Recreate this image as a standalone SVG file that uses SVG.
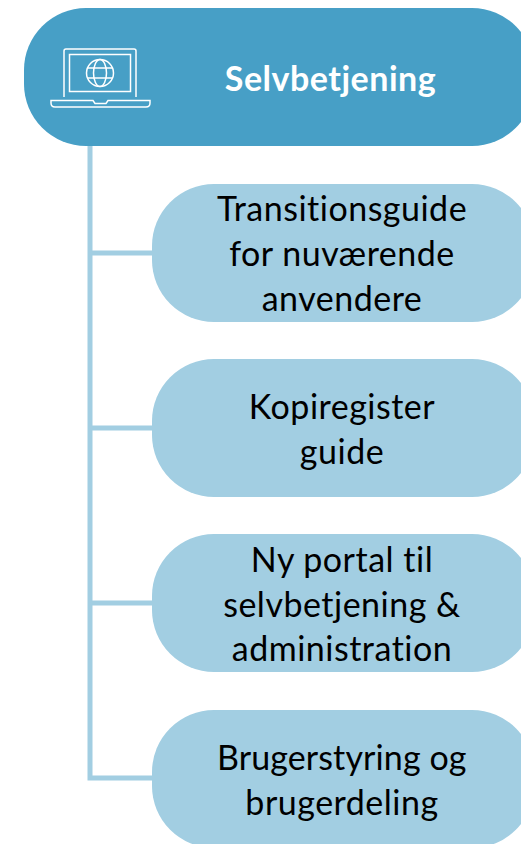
<svg xmlns="http://www.w3.org/2000/svg" width="521" height="844" viewBox="0 0 521 844">
<style>
.child{fill:#a2cee2}
.t{font-family:Lato,"Open Sans","Liberation Sans",sans-serif;font-size:34px;letter-spacing:.5px;font-variant-ligatures:none;fill:#000;text-anchor:middle}
.h{font-family:Lato,"Open Sans","Liberation Sans",sans-serif;font-size:34px;letter-spacing:.5px;font-variant-ligatures:none;font-weight:700;fill:#fff;text-anchor:middle}
.i{fill:none;stroke:#fff;stroke-width:1.5}
.c{fill:none;stroke:#a2cee2;stroke-width:5}
</style>
<rect width="521" height="844" fill="#fff"/>
<g id="connectors">
<path class="c" d="M90 140V778H156M90 253H156M90 428H156M90 603H156"/>
</g>
<g id="header">
<rect x="24" y="8" width="510" height="138" rx="62" fill="#479fc6"/>
<g id="laptop-icon">
<path class="i" d="M64 97V51Q64 49 66 49H134Q136 49 136 51V97"/>
<rect class="i" x="69.500" y="54.500" width="61" height="37"/>
<circle class="i" cx="100" cy="73" r="13.500"/>
<ellipse class="i" cx="100" cy="73" rx="6.500" ry="13.500"/>
<path class="i" d="M88 68H112M88 78H112"/>
<path class="i" d="M51 100.500H93L95 103.500H106L108 100.500H150V103Q150 107 146 107H55Q51 107 51 103Z"/>
</g>
<text class="h" x="330.500" y="91">Selvbetjening</text>
</g>
<g id="node-1">
<rect class="child" x="152" y="184" width="382" height="138" rx="62"/>
<text class="t" x="342" y="221">Transitionsguide</text>
<text class="t" x="342" y="266">for nuværende</text>
<text class="t" x="342" y="311">anvendere</text>
</g>
<g id="node-2">
<rect class="child" x="152" y="359" width="382" height="138" rx="62"/>
<text class="t" x="342" y="419">Kopiregister</text>
<text class="t" x="342" y="464">guide</text>
</g>
<g id="node-3">
<rect class="child" x="152" y="534" width="382" height="138" rx="62"/>
<text class="t" x="342" y="572">Ny portal til</text>
<text class="t" x="342" y="617">selvbetjening &amp;</text>
<text class="t" x="342" y="661">administration</text>
</g>
<g id="node-4">
<rect class="child" x="152" y="710" width="382" height="138" rx="62"/>
<text class="t" x="342" y="770" textLength="250">Brugerstyring og</text>
<text class="t" x="342" y="815">brugerdeling</text>
</g>
</svg>
